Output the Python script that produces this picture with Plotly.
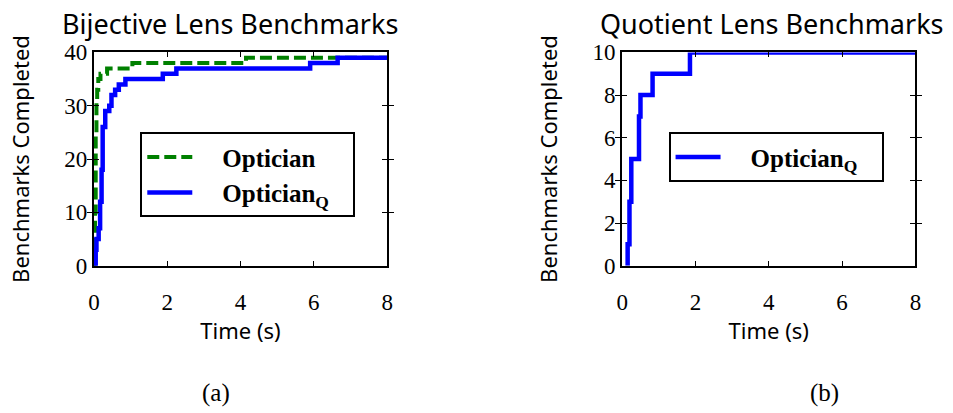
import plotly.graph_objects as go

# (a) Bijective lens benchmarks: step points (time in s, benchmarks completed)
opt_t = [0.0, 0.02, 0.03, 0.05, 0.07, 0.09, 0.12, 0.18, 0.36, 1.05, 4.15, 8.0]
opt_n = [0, 3, 10, 25, 31, 33, 35, 36, 37, 38, 39, 39]
optq_t = [0.0, 0.05, 0.07, 0.13, 0.17, 0.21, 0.24, 0.31, 0.42, 0.48, 0.58, 0.68, 0.86, 1.88, 2.25, 5.9, 6.65, 8.0]
optq_n = [0, 3, 5, 7, 12, 18, 26, 29, 30, 32, 33, 34, 35, 36, 37, 38, 39, 39]

# (b) Quotient lens benchmarks
quot_t = [0.15, 0.15, 0.2, 0.25, 0.46, 0.5, 0.83, 1.85, 8.0]
quot_n = [0, 1, 3, 5, 7, 8, 9, 10, 10]

x_ticks = [0, 2, 4, 6, 8]
y_ticks_a = [0, 10, 20, 30, 40]
y_ticks_b = [0, 2, 4, 6, 8, 10]

GREEN = "#008000"
BLUE = "#0000ff"
SANS = "Noto Sans"
SERIF = "Liberation Serif"
PAD = "\u00a0\u00a0\u00a0\u00a0"
TAIL = "\u00a0\u00a0\u00a0"

fig = go.Figure()
fig.add_trace(go.Scatter(x=opt_t, y=opt_n, mode="lines", line_shape="hv",
                         line=dict(color=GREEN, width=4, dash="12px,5px"),
                         name=PAD + "<b>Optician</b>", xaxis="x", yaxis="y", legend="legend"))
fig.add_trace(go.Scatter(x=optq_t, y=optq_n, mode="lines", line_shape="hv",
                         line=dict(color=BLUE, width=4.5),
                         name=PAD + "<b>Optician<sub>Q</sub></b>" + TAIL, xaxis="x", yaxis="y", legend="legend"))
fig.add_trace(go.Scatter(x=quot_t, y=quot_n, mode="lines", line_shape="hv",
                         line=dict(color=BLUE, width=4.5),
                         name=PAD + "<b>Optician<sub>Q</sub></b>" + TAIL, xaxis="x2", yaxis="y2", legend="legend2"))
# empty helper traces so the label-only x axes are drawn
fig.add_trace(go.Scatter(x=[], y=[], xaxis="x3", yaxis="y", showlegend=False, hoverinfo="skip"))
fig.add_trace(go.Scatter(x=[], y=[], xaxis="x4", yaxis="y2", showlegend=False, hoverinfo="skip"))

W, H = 953, 413
dom_a = [89 / W, 386 / W]
dom_b = [624 / W, 921 / W]
dom_y = [(H - 270) / H, (H - 43) / H]

frame = dict(showline=True, linecolor="black", linewidth=2, mirror="allticks",
             ticks="inside", ticklen=5, tickwidth=1, tickcolor="black",
             showgrid=False, zeroline=False)
tickfont = dict(family=SERIF, size=23, color="black")

xtitle = dict(text="Time (s)", font=dict(family=SANS, size=22, color="black"), standoff=0)
ytitle = dict(text="Benchmarks Completed", font=dict(family=SANS, size=22, color="black"), standoff=29)

xlabels = dict(range=[0, 8], tickvals=x_ticks, ticks="outside", ticklen=16,
               tickcolor="rgba(0,0,0,0)", showline=False, showgrid=False, zeroline=False,
               tickfont=tickfont, title=xtitle, side="bottom")

legend_common = dict(xanchor="left", yanchor="top", bordercolor="black", borderwidth=2,
                     bgcolor="white", itemwidth=45,
                     font=dict(family=SERIF, size=25, color="black"))

fig.update_layout(
    width=W, height=H, margin=dict(l=0, r=0, t=0, b=0),
    paper_bgcolor="white", plot_bgcolor="white",
    xaxis=dict(domain=dom_a, range=[0, 8], tickvals=x_ticks, anchor="y",
               showticklabels=False, **frame),
    yaxis=dict(domain=dom_y, range=[0, 40], tickvals=y_ticks_a, anchor="x",
               tickfont=tickfont, ticksuffix="\u2009", title=ytitle, **frame),
    xaxis2=dict(domain=dom_b, range=[0, 8], tickvals=x_ticks, anchor="y2",
                showticklabels=False, **frame),
    yaxis2=dict(domain=dom_y, range=[0, 10], tickvals=y_ticks_b, anchor="x2",
                tickfont=tickfont, ticksuffix="\u2009", title=ytitle, **frame),
    xaxis3=dict(domain=dom_a, anchor="y", overlaying="x", **xlabels),
    xaxis4=dict(domain=dom_b, anchor="y2", overlaying="x2", **xlabels),
    legend=dict(x=136 / W, y=(H - 128) / H, **legend_common),
    legend2=dict(x=671 / W, y=(H - 128) / H, **legend_common),
    showlegend=True,
    annotations=[
        dict(text="Bijective Lens Benchmarks", x=sum(dom_a) / 2 - 11 / W, y=1 - 34 / H,
             xref="paper", yref="paper", xanchor="center", yanchor="bottom", showarrow=False,
             font=dict(family=SANS, size=27, color="black")),
        dict(text="Quotient Lens Benchmarks", x=sum(dom_b) / 2 + 3 / W, y=1 - 34 / H,
             xref="paper", yref="paper", xanchor="center", yanchor="bottom", showarrow=False,
             font=dict(family=SANS, size=27, color="black")),
        dict(text="(a)", x=213 / W, y=1 - 406 / H, xref="paper", yref="paper",
             xanchor="center", yanchor="middle", showarrow=False,
             font=dict(family=SERIF, size=25, color="black")),
        dict(text="(b)", x=829 / W, y=1 - 406 / H, xref="paper", yref="paper",
             xanchor="center", yanchor="middle", showarrow=False,
             font=dict(family=SERIF, size=25, color="black")),
    ],
)

fig.write_html("out.html")
